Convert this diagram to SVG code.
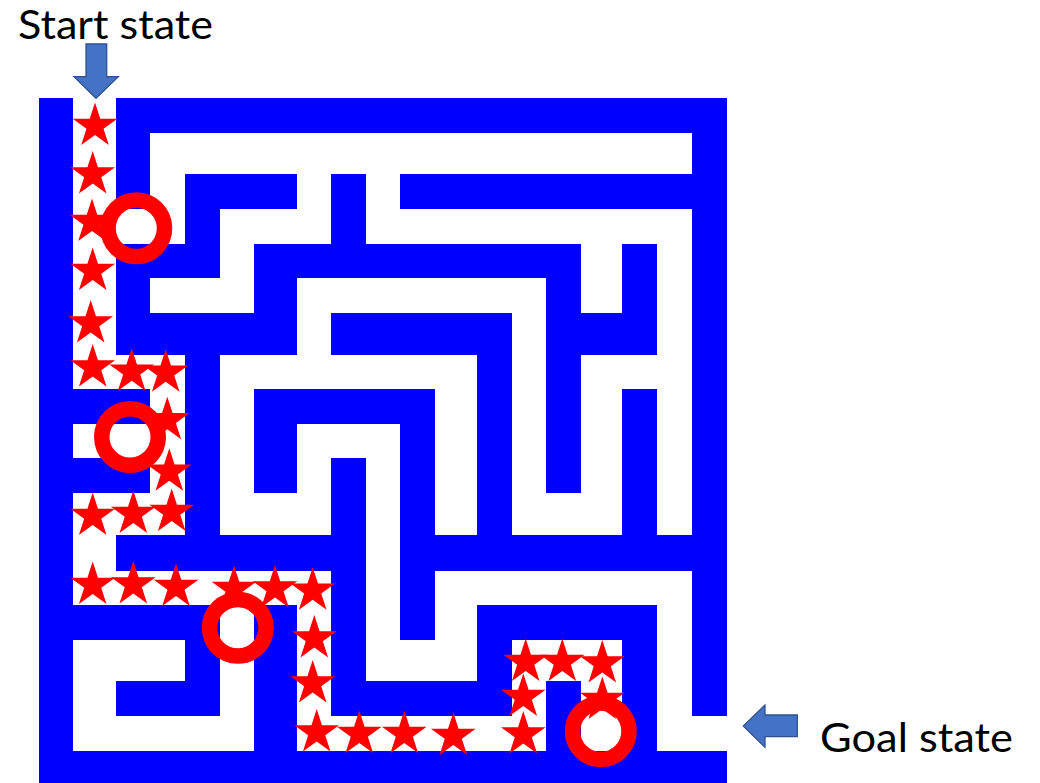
<svg xmlns="http://www.w3.org/2000/svg" xmlns:xlink="http://www.w3.org/1999/xlink" width="1040" height="783" viewBox="0 0 1040 783">
  <style>
    .wall { fill: #0000FF; }
    .path rect { fill: #FFFFFF; }
    .star { fill: #FF0000; }
    .ring { fill: none; stroke: #FF0000; stroke-width: 15.5; }
    .arrow { fill: #4472C4; stroke: #2F528F; stroke-width: 1.3; }
    .label { font-family: Lato, "Open Sans", "Liberation Sans", sans-serif; font-size: 41px; fill: #000000; }
  </style>
  <defs>
    <path id="star" d="M0,-23.5 L5.28,-7.26 L22.35,-7.26 L8.54,2.77 L13.81,19.01 L0,8.98 L-13.81,19.01 L-8.54,2.77 L-22.35,-7.26 L-5.28,-7.26 Z"/>
  </defs>
  <rect width="1040" height="783" fill="#FFFFFF"/>

  <g id="maze">
    <rect class="wall" x="39" y="98" width="688" height="692"/>
    <g class="path">
      <rect x="73" y="98" width="43" height="35"/>
      <rect x="73" y="133" width="43" height="41"/><rect x="150" y="133" width="542" height="41"/>
      <rect x="73" y="174" width="43" height="35"/><rect x="150" y="174" width="35" height="35"/><rect x="297" y="174" width="34" height="35"/><rect x="366" y="174" width="34" height="35"/>
      <rect x="73" y="209" width="112" height="35"/><rect x="220" y="209" width="111" height="35"/><rect x="366" y="209" width="326" height="35"/>
      <rect x="73" y="244" width="43" height="34"/><rect x="220" y="244" width="34" height="34"/><rect x="581" y="244" width="41" height="34"/><rect x="657" y="244" width="35" height="34"/>
      <rect x="73" y="278" width="43" height="35"/><rect x="150" y="278" width="104" height="35"/><rect x="297" y="278" width="249" height="35"/><rect x="581" y="278" width="41" height="35"/><rect x="657" y="278" width="35" height="35"/>
      <rect x="73" y="313" width="43" height="42"/><rect x="297" y="313" width="34" height="42"/><rect x="512" y="313" width="34" height="42"/><rect x="657" y="313" width="35" height="42"/>
      <rect x="73" y="355" width="112" height="34"/><rect x="220" y="355" width="257" height="34"/><rect x="512" y="355" width="34" height="34"/><rect x="581" y="355" width="111" height="34"/>
      <rect x="150" y="389" width="35" height="35"/><rect x="220" y="389" width="34" height="35"/><rect x="435" y="389" width="42" height="35"/><rect x="512" y="389" width="34" height="35"/><rect x="581" y="389" width="41" height="35"/><rect x="657" y="389" width="35" height="35"/>
      <rect x="73" y="424" width="112" height="34"/><rect x="220" y="424" width="34" height="34"/><rect x="297" y="424" width="103" height="34"/><rect x="435" y="424" width="42" height="34"/><rect x="512" y="424" width="34" height="34"/><rect x="581" y="424" width="41" height="34"/><rect x="657" y="424" width="35" height="34"/>
      <rect x="150" y="458" width="35" height="35"/><rect x="220" y="458" width="34" height="35"/><rect x="297" y="458" width="34" height="35"/><rect x="366" y="458" width="34" height="35"/><rect x="435" y="458" width="42" height="35"/><rect x="512" y="458" width="34" height="35"/><rect x="581" y="458" width="41" height="35"/><rect x="657" y="458" width="35" height="35"/>
      <rect x="73" y="493" width="112" height="42"/><rect x="220" y="493" width="111" height="42"/><rect x="366" y="493" width="34" height="42"/><rect x="435" y="493" width="42" height="42"/><rect x="512" y="493" width="110" height="42"/><rect x="657" y="493" width="35" height="42"/>
      <rect x="73" y="535" width="43" height="36"/><rect x="366" y="535" width="34" height="36"/>
      <rect x="73" y="571" width="258" height="34"/><rect x="366" y="571" width="34" height="34"/><rect x="435" y="571" width="257" height="34"/>
      <rect x="220" y="605" width="34" height="35"/><rect x="297" y="605" width="34" height="35"/><rect x="366" y="605" width="34" height="35"/><rect x="435" y="605" width="42" height="35"/><rect x="657" y="605" width="35" height="35"/>
      <rect x="73" y="640" width="112" height="41"/><rect x="220" y="640" width="34" height="41"/><rect x="297" y="640" width="34" height="41"/><rect x="366" y="640" width="111" height="41"/><rect x="512" y="640" width="110" height="41"/><rect x="657" y="640" width="35" height="41"/>
      <rect x="73" y="681" width="43" height="35"/><rect x="220" y="681" width="34" height="35"/><rect x="297" y="681" width="34" height="35"/><rect x="512" y="681" width="34" height="35"/><rect x="581" y="681" width="41" height="35"/><rect x="657" y="681" width="35" height="35"/>
      <rect x="73" y="716" width="181" height="35"/><rect x="297" y="716" width="249" height="35"/><rect x="581" y="716" width="41" height="35"/><rect x="657" y="716" width="70" height="35"/>
    </g>
  </g>

  <g id="stars" class="star">
    <use xlink:href="#star" x="95" y="126"/>
    <use xlink:href="#star" x="92.7" y="174.5"/>
    <use xlink:href="#star" x="92" y="222"/>
    <use xlink:href="#star" x="92.7" y="271"/>
    <use xlink:href="#star" x="90.7" y="323.5"/>
    <use xlink:href="#star" x="92.7" y="367.5"/>
    <use xlink:href="#star" x="131.7" y="371.8"/>
    <use xlink:href="#star" x="165.7" y="372.8"/>
    <use xlink:href="#star" x="167.3" y="420.2"/>
    <use xlink:href="#star" x="169.3" y="471.8"/>
    <use xlink:href="#star" x="92.7" y="516"/>
    <use xlink:href="#star" x="133.3" y="514"/>
    <use xlink:href="#star" x="171.7" y="512"/>
    <use xlink:href="#star" x="92.7" y="585"/>
    <use xlink:href="#star" x="133.3" y="584.5"/>
    <use xlink:href="#star" x="176" y="587"/>
    <use xlink:href="#star" x="234" y="589"/>
    <use xlink:href="#star" x="275" y="588.5"/>
    <use xlink:href="#star" x="312.7" y="590.8"/>
    <use xlink:href="#star" x="314.3" y="638.5"/>
    <use xlink:href="#star" x="312.7" y="683.5"/>
    <use xlink:href="#star" x="316.7" y="732.5"/>
    <use xlink:href="#star" x="359.3" y="734"/>
    <use xlink:href="#star" x="404.3" y="734"/>
    <use xlink:href="#star" x="453.3" y="736"/>
    <use xlink:href="#star" x="523.3" y="734.5"/>
    <use xlink:href="#star" x="523.3" y="697"/>
    <use xlink:href="#star" x="525.7" y="662"/>
    <use xlink:href="#star" x="562.3" y="662"/>
    <use xlink:href="#star" x="602.3" y="663.5"/>
    <use xlink:href="#star" x="602.3" y="700"/>
  </g>

  <g id="rings">
    <circle class="ring" cx="136.3" cy="228.3" r="28.25"/>
    <circle class="ring" cx="130" cy="437" r="28.25"/>
    <circle class="ring" cx="237.8" cy="627.8" r="28.25"/>
    <circle class="ring" cx="600.8" cy="731.2" r="28.25"/>
  </g>

  <g id="start">
    <text class="label" x="18" y="38.5" textLength="195" lengthAdjust="spacingAndGlyphs">Start state</text>
    <path class="arrow" d="M86,44 H106.7 V76.7 H118.3 L96,98.3 L74,76.7 H86 Z"/>
  </g>

  <g id="goal">
    <path class="arrow" d="M797.3,715 V736.7 H765 V747.3 L743.3,726 L765,705 V715 Z"/>
    <text class="label" x="820" y="751.5" textLength="193" lengthAdjust="spacingAndGlyphs">Goal state</text>
  </g>
</svg>
